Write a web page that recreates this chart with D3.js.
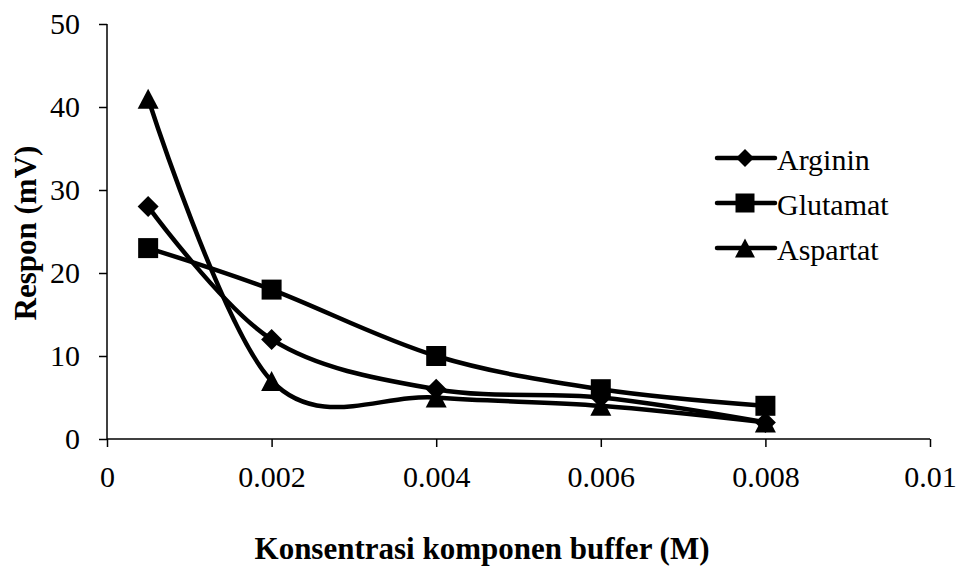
<!DOCTYPE html>
<html>
<head>
<meta charset="utf-8">
<script src="https://cdn.jsdelivr.net/npm/d3@7"></script>
<style>
  body { margin: 0; background: #fff; }
  svg text { font-family: "Liberation Serif", "Times New Roman", "DejaVu Serif", serif !important; }
</style>
</head>
<body>
<svg id="chart" width="956" height="566"></svg>
<script>
const xValues = [0.0005, 0.002, 0.004, 0.006, 0.008];
const arginin = [28, 12, 6, 5, 2];
const glutamat = [23, 18, 10, 6, 4];
const aspartat = [41, 7, 5, 4, 2];
const xTicks = [0, 0.002, 0.004, 0.006, 0.008, 0.01];
const yTicks = [0, 10, 20, 30, 40, 50];

const serif = '"Liberation Serif", "Times New Roman", serif';

// marker shapes, centred on their bounding box like Excel does
const diamond = s => `M0,${-s}L${s},0L0,${s}L${-s},0Z`;
const square = s => `M${-s},${-s}H${s}V${s}H${-s}Z`;
const triangle = s => `M0,${-s}L${s * 1.05},${s}L${-s * 1.05},${s}Z`;

const series = [
  { name: 'Arginin', values: arginin, shape: diamond, r: 10.5, lr: 9 },
  { name: 'Glutamat', values: glutamat, shape: square, r: 10, lr: 9.5 },
  { name: 'Aspartat', values: aspartat, shape: triangle, r: 10, lr: 9.5 }
];

const svg = d3.select('#chart').attr('font-family', serif);
const margin = { left: 107, right: 26, top: 24, bottom: 127 };
const width = 956, height = 566;

const x = d3.scaleLinear().domain([0, 0.01]).range([margin.left, width - margin.right]);
const y = d3.scaleLinear().domain([0, 50]).range([height - margin.bottom, margin.top]);

// axes
const xAxis = svg.append('g')
  .attr('transform', `translate(0,${y(0)})`)
  .call(d3.axisBottom(x).tickValues(xTicks).tickSize(8).tickPadding(19)
    .tickFormat(d => d === 0 ? '0' : String(+d.toFixed(3))));
const yAxis = svg.append('g')
  .attr('transform', `translate(${x(0)},0)`)
  .call(d3.axisLeft(y).tickValues(yTicks).tickSize(8).tickPadding(19));

[xAxis, yAxis].forEach(a => {
  a.attr('font-family', serif);
  a.select('.domain').attr('stroke', '#000').attr('stroke-width', 1.5);
  a.selectAll('.tick line').attr('stroke', '#000').attr('stroke-width', 1.5);
  a.selectAll('.tick text').attr('font-size', 30).attr('fill', '#000')
    .style('font-family', serif);
});
xAxis.select('.domain').attr('d', `M${x(0)},0H${x(0.01)}`);
yAxis.select('.domain').attr('d', `M0,${y(0)}V${y(50)}`);

// smoothed lines
const line = d3.line()
  .curve(d3.curveCardinal.tension(0))
  .x((d, i) => x(xValues[i]))
  .y(d => y(d));

svg.append('g').selectAll('path')
  .data(series)
  .enter()
  .append('path')
  .attr('d', s => line(s.values))
  .attr('fill', 'none')
  .attr('stroke', '#000')
  .attr('stroke-width', 4.5);

// markers
series.forEach(s => {
  svg.append('g').selectAll('path')
    .data(s.values)
    .enter()
    .append('path')
    .attr('d', s.shape(s.r))
    .attr('transform', (d, i) => `translate(${x(xValues[i])},${y(d)})`)
    .attr('fill', '#000');
});

// legend
const legend = svg.append('g').attr('transform', 'translate(717,158)');
series.forEach((s, i) => {
  const g = legend.append('g').attr('transform', `translate(0,${i * 45})`);
  g.append('line').attr('x1', 0).attr('x2', 58).attr('y1', 0).attr('y2', 0)
    .attr('stroke', '#000').attr('stroke-width', 4.5).attr('stroke-linecap', 'round');
  g.append('path').attr('d', s.shape(s.lr))
    .attr('transform', 'translate(28,0)').attr('fill', '#000');
  g.append('text').attr('x', 60).attr('y', 12).attr('font-size', 30)
    .style('font-family', serif).text(s.name);
});

// axis titles
svg.append('text')
  .attr('x', 482).attr('y', 559)
  .attr('text-anchor', 'middle').attr('font-size', 31).attr('font-weight', 'bold')
  .style('font-family', serif)
  .text('Konsentrasi komponen buffer (M)');
svg.append('text')
  .attr('transform', `translate(36,233) rotate(-90)`)
  .attr('text-anchor', 'middle').attr('font-size', 31).attr('font-weight', 'bold')
  .style('font-family', serif)
  .text('Respon (mV)');
</script>
</body>
</html>
